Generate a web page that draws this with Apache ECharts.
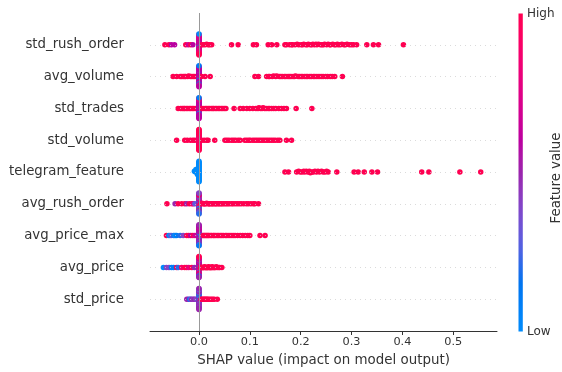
<!DOCTYPE html>
<html>
<head>
<meta charset="utf-8">
<script src="https://cdn.jsdelivr.net/npm/echarts@6/dist/echarts.min.js"></script>
<style>html,body{margin:0;padding:0;background:#fff}#c{width:562px;height:372px}</style>
</head>
<body>
<div id="c"></div>
<script>
// Features, top to bottom as in the picture
const features = ['std_rush_order','avg_volume','std_trades','std_volume','telegram_feature','avg_rush_order','avg_price_max','avg_price','std_price'];
const xTicks = [0.0, 0.1, 0.2, 0.3, 0.4, 0.5];
const xTitle = 'SHAP value (impact on model output)';
const cbarTitle = 'Feature value';
const cbarHigh = 'High';
const cbarLow = 'Low';

// SHAP values and feature values (0 = low, 1 = high) per feature
const shap_std_rush_order = [-0.067,-0.059,-0.054,-0.048,-0.026,-0.021,-0.016,-0.012,
 0,0,0,0,0,0,0,0,0,0,0,0,0,0,0,0,0,0,0,0,0,0,0,0,0,0,0,0,0,0,0,0,0,0,
 0.005,0.008,0.012,0.015,0.018,0.021,0.025,0.064,0.077,0.107,0.113,0.136,0.143,0.153,
 0.169,0.172,0.178,0.182,0.184,0.189,0.193,0.196,0.201,0.204,0.206,0.210,0.213,0.215,0.219,0.222,0.224,0.227,0.230,0.232,0.235,0.239,0.242,0.245,0.247,0.251,0.254,0.257,0.259,0.263,0.266,0.269,0.272,0.274,0.278,0.281,0.285,0.288,0.291,0.296,0.300,0.304,0.310,
 0.330,0.343,0.353,0.402];
const fval_std_rush_order = [1,1,0.6,0.6,1,0.7,1,0.6,
 0.6,0.7,0.6,0.7,0.6,0.6,0.7,0.6,0.2,0.7,0.6,0.6,0.7,0.6,0.7,0.7,0.6,0.7,0.8,0.6,0.7,0.7,0.8,0.7,0.8,0.7,0.9,0.7,0.9,0.7,1,0.8,1,0,
 1,1,1,1,1,1,1,1,1,1,1,1,1,1,
 1,1,1,1,1,1,1,1,1,1,1,1,1,1,1,1,1,1,1,1,1,1,1,1,1,1,1,1,1,1,1,1,1,1,1,1,1,1,1,1,1,1,1,
 1,1,1,1];

const shap_avg_volume = [-0.051,-0.044,-0.037,-0.034,-0.031,-0.028,-0.026,-0.022,-0.020,-0.017,-0.014,-0.011,-0.008,
 0,0,0,0,0,0,0,0,0,0,0,0,0,0,0,0,0,0,0,0,0,0,0,0,0,0,0,0,0,0,0,0,
 0.005,0.012,0.022,0.110,0.117,
 0.133,0.137,0.139,0.144,0.147,0.151,0.153,0.158,0.161,0.164,0.168,0.171,0.175,0.178,0.181,0.185,0.188,0.190,0.195,0.198,0.201,0.204,0.208,0.211,0.214,0.218,0.221,0.225,0.228,0.232,0.236,0.240,0.244,0.249,0.253,0.258,0.262,0.267,
 0.282];
const fval_avg_volume = [1,1,1,1,1,1,1,1,1,1,1,1,1,
 0.6,0.6,0.6,0.5,0.6,0.6,0.6,0.6,0.5,0.6,0.6,0.6,0.1,0.6,0.6,0.6,0.6,0.5,0.6,0.6,0.6,0.6,0.1,0.6,0.6,0.6,0.5,0.6,0.7,0.6,0.6,0.1,
 1,1,1,1,1,
 1,1,1,1,1,1,1,1,1,1,1,1,1,1,1,1,1,1,1,1,1,1,1,1,1,1,1,1,1,1,1,1,1,1,1,1,1,1,
 1];

const shap_std_trades = [-0.041,-0.036,-0.033,-0.030,-0.028,-0.025,-0.022,-0.019,-0.016,-0.013,-0.010,-0.006,
 0,0,0,0,0,0,0,0,0,0,0,0,0,0,0,0,0,0,0,0,0,0,0,0,0,0,0,0,0,0,0,0,
 0.005,0.008,0.012,0.015,0.018,0.021,0.024,0.027,0.029,0.032,0.035,0.038,0.041,0.044,0.047,0.050,0.053,
 0.069,0.081,0.087,0.094,0.100,0.106,
 0.112,0.116,0.118,0.121,0.124,0.126,0.129,0.132,0.136,0.139,0.143,0.147,0.151,0.157,0.162,0.167,0.172,
 0.191,0.222];
const fval_std_trades = [1,1,1,1,1,1,1,1,1,1,1,1,
 0.6,0.6,0.6,0.6,0.6,0.6,0.6,0.6,0.6,0.6,0.6,0.6,0.6,0.6,0.6,0.6,0,0.6,0.6,0.6,0.6,0.6,0.6,0.6,0.6,0.7,0.6,0.8,0.6,0.9,0.6,0.1,
 1,1,1,1,1,1,1,1,1,1,1,1,1,1,1,1,1,
 1,1,1,1,1,1,
 1,1,1,1,1,1,1,1,1,1,1,1,1,1,1,1,1,
 1,1];

const shap_std_volume = [-0.044,-0.028,-0.023,-0.017,-0.012,-0.008,
 0,0,0,0,0,0,0,0,0,0,0,0,0,0,0,0,0,0,0,0,0,0,0,0,0,0,0,0,0,0,0,0,
 0.005,0.010,0.015,0.018,0.031,
 0.051,0.055,0.059,0.064,0.068,0.072,0.077,0.081,
 0.090,0.094,0.098,0.101,0.106,0.110,0.114,0.118,0.122,0.126,0.130,0.134,0.138,0.142,0.146,0.150,0.155,0.159,
 0.172,0.182];
const fval_std_volume = [1,1,1,1,1,1,
 0.9,0.9,0.8,0.9,1,0.9,0.8,0.9,1,0.9,0.9,0.8,1,0.9,0.9,1,0.8,0.9,1,1,0.9,1,1,0.9,1,1,1,1,1,1,1,1,
 1,1,1,1,1,
 1,1,1,1,1,1,1,1,
 1,1,1,1,1,1,1,1,1,1,1,1,1,1,1,1,1,1,
 1,1];

const shap_telegram_feature = [0,0,0,-0.002,0,0,-0.004,0,-0.007,0,-0.003,0,-0.009,0,-0.005,0,0,-0.002,0,-0.006,0,0,-0.003,0,0,0,0,-0.002,0,0,0,0,0,0,0,0,
 0.169,0.176,0.192,0.196,0.199,0.203,0.206,0.208,0.211,0.214,0.217,0.219,0.222,0.225,0.228,0.231,0.234,0.237,0.241,0.244,0.248,0.251,0.254,
 0.271,0.305,0.313,0.325,0.340,0.351,0.438,0.452,0.513,0.554];
const fval_telegram_feature = [0,0,0,0,0,0,0,0,0,0,0,0,0,0,0,0,0,0,0,0,0,0,0,0,0,0,0,0,0,0,0,0,0,0,0,0,
 1,1,1,1,1,1,1,1,1,1,1,1,1,1,1,1,1,1,1,1,1,1,1,
 1,1,1,1,1,1,1,1,1,1];

const shap_avg_rush_order = [-0.063,-0.047,-0.041,-0.034,-0.028,-0.024,-0.019,-0.014,-0.011,-0.008,
 0,0,0,0,0,0,0,0,0,0,0,0,0,0,0,0,0,0,0,0,0,0,0,0,0,0,0,0,0,0,0,0,0,0,
 0.003,0.005,0.006,0.009,0.010,0.012,0.014,0.015,0.018,0.020,0.021,0.024,0.026,0.028,0.031,0.033,0.035,0.038,0.040,0.043,0.045,0.048,0.051,0.054,0.057,0.060,0.064,0.067,0.071,0.075,0.079,0.083,0.088,0.093,0.097,0.102,0.107,0.110,
 0.117];
const fval_avg_rush_order = [1,0.5,1,1,1,0.5,1,1,0.8,0.3,
 0.5,0.4,0.6,0.2,1,0.5,0.3,0.6,0.9,0.2,0.5,0.4,1,0.6,0.3,0.5,0.1,0.9,0.5,0.4,0.2,0.6,1,0.3,0.5,0.9,0.2,0.6,0.4,1,0.3,0.5,0.2,0.4,
 1,1,1,1,1,1,1,1,1,1,1,1,1,1,1,1,1,1,1,1,1,1,1,1,1,1,1,1,1,1,1,1,1,1,1,1,1,1,
 1];

const shap_avg_price_max = [-0.064,-0.059,-0.055,-0.050,-0.047,-0.044,-0.037,-0.031,-0.024,-0.020,-0.016,-0.012,-0.008,
 0,0,0,0,0,0,0,0,0,0,0,0,0,0,0,0,0,0,0,0,0,0,0,0,0,0,0,0,0,0,0,0,0,0,
 0.004,0.006,0.008,0.010,0.012,0.014,0.016,0.018,0.020,0.023,0.025,0.028,0.030,0.033,0.036,0.039,0.042,0.045,0.048,0.052,0.055,0.059,0.063,0.067,0.071,0.076,0.081,0.086,0.091,0.096,0.100,
 0.120,0.130];
const fval_avg_price_max = [1,0,0.3,0.2,0,0.1,0.2,0.4,1,1,0.6,1,0.7,
 0.6,0.5,0.6,0.6,0.3,0.6,0.5,0.6,0.6,0.2,0.6,0.5,0.6,0.6,0.3,0.6,0.7,0.5,0.6,0.6,0.2,0.6,0.5,0.6,0.3,0.7,0.6,0.5,0.2,0.6,0.3,0.6,0.1,0.5,0.2,0.3,
 1,1,1,1,1,1,1,1,1,1,1,1,1,1,1,1,1,1,1,1,1,1,1,1,1,1,1,1,1,1,1,
 1,1];

const shap_avg_price = [-0.070,-0.064,-0.059,-0.054,-0.050,-0.044,-0.041,-0.034,-0.028,-0.024,-0.020,-0.014,-0.009,
 0,0,0,0,0,0,0,0,0,0,0,0,0,0,0,0,0,0,0,0,0,0,0,0,0,0,0,0,0,0,0,0,0,0,
 0.003,0.004,0.005,0.006,0.007,0.008,0.009,0.010,0.011,0.012,0.013,0.014,0.015,0.016,0.017,0.018,0.019,0.020,0.021,0.022,0.023,0.024,0.025,0.026,0.027,0.028,0.030,0.031,0.033,0.034,0.036,0.039,0.041,0.045];
const fval_avg_price = [0,0.4,0.4,0.1,0.1,1,0.2,0.9,1,1,0.8,1,0.5,
 0.6,0.7,0.5,0.6,0.8,0.6,0.5,0.7,0.6,0.2,0.6,0.8,0.5,0.6,0.9,0.6,0.3,0.7,0.6,0.5,1,0.6,0.7,0.3,0.6,0.9,0.5,0.6,0.1,0.7,0.6,0.9,0.5,1,
 1,1,1,1,1,1,1,1,1,1,1,1,1,1,1,1,1,1,1,1,1,1,1,1,1,1,1,1,1,1,1,1,1,1];

const shap_std_price = [-0.024,-0.021,-0.018,-0.016,-0.014,-0.011,-0.009,-0.006,
 0,0,0,0,0,0,0,0,0,0,0,0,0,0,0,0,0,0,0,0,0,0,0,0,0,0,0,0,0,0,0,0,0,0,
 0.004,0.006,0.008,0.010,0.012,0.014,0.016,0.018,0.021,0.024,0.027,0.030,0.036];
const fval_std_price = [0.5,0.5,0.1,0.3,0.5,0.4,0.5,0.4,
 0.5,0.5,0.4,0.3,0.5,0.5,0.2,0.5,0.4,0.1,0.5,0.3,0.5,0.1,0.5,0.4,0.3,0.1,0.5,0.5,0.5,0.3,0.4,0.5,0.5,0.5,0.4,0.5,0.5,0.3,0.5,0.4,0.5,0.5,
 1,1,1,1,1,1,1,1,1,1,1,1,1];

const rowShap = [shap_std_rush_order, shap_avg_volume, shap_std_trades, shap_std_volume, shap_telegram_feature, shap_avg_rush_order, shap_avg_price_max, shap_avg_price, shap_std_price];
const rowFval = [fval_std_rush_order, fval_avg_volume, fval_std_trades, fval_std_volume, fval_telegram_feature, fval_avg_rush_order, fval_avg_price_max, fval_avg_price, fval_std_price];

// SHAP red_blue colormap (interpolated in LCH)
function lch2rgb(L, C, H) {
  const a = C * Math.cos(H), b = C * Math.sin(H);
  const fy = (L + 16) / 116, fx = fy + a / 500, fz = fy - b / 200;
  const inv = t => (t > 6/29 ? t*t*t : 3*(6/29)*(6/29)*(t - 4/29));
  const X = 0.95047 * inv(fx), Y = inv(fy), Z = 1.08883 * inv(fz);
  let r = 3.2406*X - 1.5372*Y - 0.4986*Z;
  let g = -0.9689*X + 1.8758*Y + 0.0415*Z;
  let bb = 0.0557*X - 0.2040*Y + 1.0570*Z;
  const gam = v => { v = Math.max(0, Math.min(1, v)); return v <= 0.0031308 ? 12.92*v : 1.055*Math.pow(v, 1/2.4) - 0.055; };
  const h = v => Math.round(gam(v)*255).toString(16).padStart(2, '0');
  return '#' + h(r) + h(g) + h(bb);
}
const cmap = [];
for (let i = 0; i <= 20; i++) {
  const p = i / 20;
  const L = p < 0.5 ? 54 + (40 - 54) * (p / 0.5) : 40 + (54 - 40) * ((p - 0.5) / 0.5);
  const C = 70 + 20 * p;
  const H = 4.6588 + (0.35470565 + 2*Math.PI - 4.6588) * p;
  cmap.push(lch2rgb(L, C, H));
}

// beeswarm layout (same as shap summary plot)
function swarm(shaps) {
  const N = shaps.length, nbins = 100;
  const mn = Math.min(...shaps), mx = Math.max(...shaps);
  const quant = shaps.map(v => Math.round(nbins * (v - mn) / (mx - mn + 1e-8)));
  const inds = shaps.map((_, i) => i).sort((a, b) => quant[a] - quant[b] || a - b);
  let layer = 0, last = -1;
  const ys = new Array(N).fill(0);
  for (const i of inds) {
    if (quant[i] !== last) layer = 0;
    ys[i] = Math.ceil(layer / 2) * ((layer % 2) * 2 - 1);
    layer++; last = quant[i];
  }
  const m = Math.max(...ys.map(y => y + 1));
  return ys.map(y => y * 0.9 * (0.4 / m));
}

const nF = features.length;
const points = [];
rowShap.forEach((sh, r) => {
  const pos = nF - 1 - r;
  const ys = swarm(sh);
  sh.forEach((v, i) => points.push([v, pos + ys[i], rowFval[r][i]]));
});

const FONT = 'DejaVu Sans';
const chart = echarts.init(document.getElementById('c'), null, {renderer: 'canvas'});
chart.setOption({
  animation: false,
  backgroundColor: '#ffffff',
  textStyle: {fontFamily: FONT},
  grid: {left: 150, right: 65, top: 13, bottom: 41},
  xAxis: {
    type: 'value', min: -0.0963, max: 0.586,
    axisLine: {show: true, onZero: false, lineStyle: {color: '#333333', width: 1}},
    axisTick: {show: true, length: 4, customValues: xTicks, lineStyle: {color: '#333333'}},
    axisLabel: {customValues: xTicks, formatter: v => Number(v).toFixed(1), fontSize: 11.3, color: '#333333', margin: 6, fontFamily: FONT},
    splitLine: {show: false},
    name: xTitle, nameLocation: 'middle', nameGap: 23,
    nameTextStyle: {fontSize: 13.4, color: '#333333', fontFamily: FONT}
  },
  yAxis: {
    type: 'value', min: -1, max: nF, interval: 1,
    axisLine: {show: false}, axisTick: {show: false}, splitLine: {show: false},
    axisLabel: {
      formatter: v => (v >= 0 && v < nF ? features[nF - 1 - v] : ''),
      fontSize: 13.3, color: '#333333', margin: 26, fontFamily: FONT,
      padding: [3, 0, 0, 0]
    }
  },
  visualMap: {show: false, seriesIndex: 1, dimension: 2, min: 0, max: 1, inRange: {color: cmap}},
  series: [
    {
      type: 'scatter', data: [], z: 1, silent: true,
      markLine: {
        silent: true, symbol: ['none', 'none'], label: {show: false}, animation: false,
        data: [
          {xAxis: 0, lineStyle: {color: '#999999', width: 1, type: 'solid'}}
        ].concat(features.map((_, i) => ({yAxis: i, lineStyle: {color: '#cccccc', width: 0.7, type: [1, 4]}})))
      }
    },
    {
      type: 'scatter', data: points, symbolSize: 5.5, z: 3, silent: true,
      itemStyle: {opacity: 1, borderWidth: 0}
    }
  ],
  graphic: [
    {type: 'rect', shape: {x: 518.5, y: 13.5, width: 4.3, height: 318}, style: {fill: {type: 'linear', x: 0, y: 1, x2: 0, y2: 0, colorStops: cmap.map((c, i) => ({offset: i / (cmap.length - 1), color: c}))}}},
    {type: 'text', x: 527, y: 14, style: {text: cbarHigh, fontSize: 12, fontFamily: FONT, fill: '#333333', align: 'left', verticalAlign: 'middle'}},
    {type: 'text', x: 527, y: 332, style: {text: cbarLow, fontSize: 12, fontFamily: FONT, fill: '#333333', align: 'left', verticalAlign: 'middle'}},
    {type: 'text', x: 557, y: 178, rotation: Math.PI / 2, style: {text: cbarTitle, fontSize: 13.3, fontFamily: FONT, fill: '#333333', align: 'center', verticalAlign: 'middle'}}
  ]
});
</script>
</body>
</html>
